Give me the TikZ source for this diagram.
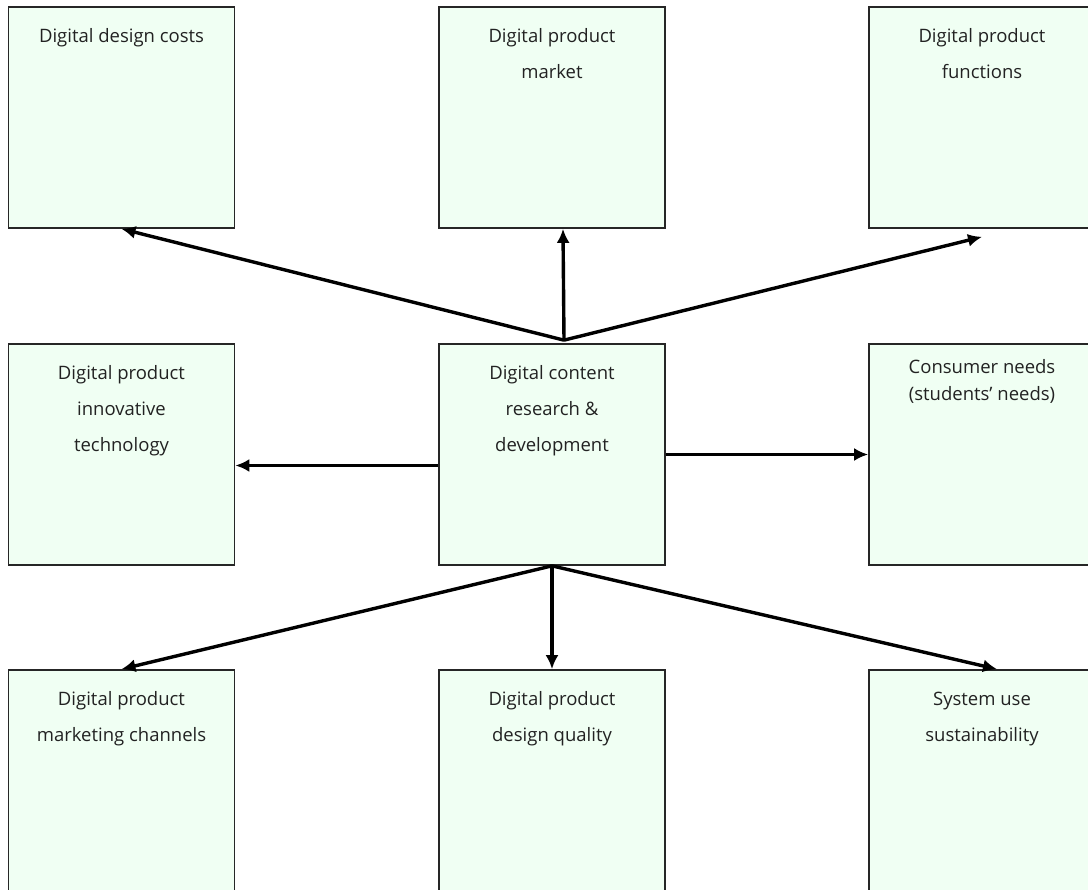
\documentclass[tikz,border=0pt]{standalone}
\usepackage{fontspec}
\setmainfont{Open Sans}
\usetikzlibrary{arrows.meta}
\definecolor{boxfill}{HTML}{F0FFF3}
\definecolor{boxtext}{HTML}{222222}
\begin{document}
\begin{tikzpicture}[x=1pt,y=-1pt,
    site/.style={rectangle, draw=black!85, line width=1.7pt, fill=boxfill, minimum width=226pt, minimum height=221pt, inner sep=0pt},
    txt/.style={anchor=north, align=center, text=boxtext, font=\fontsize{18.5}{36}\selectfont},
    link/.style={line width=3.4pt, -{Latex[length=14pt,width=13pt]}}]

    \useasboundingbox (0,0) rectangle (1088,890);
    \clip (0,0) rectangle (1088,890);

    % Top row
    \node[site, label={[txt, yshift=-19pt]north:Digital design costs}] (cost) at (121.5,117.5) {};
    \node[site, label={[txt, yshift=-19pt]north:Digital product\\market}] (market) at (552,117.5) {};
    \node[site, label={[txt, yshift=-19pt]north:Digital product\\functions}] (func) at (982,117.5) {};

    % Middle row
    \node[site, label={[txt, yshift=-19pt]north:Digital product\\innovative\\technology}] (innov) at (121.5,454.5) {};
    \node[site, label={[txt, yshift=-19pt]north:Digital content\\research \&\\development}] (rd) at (552,454.5) {};
    \node[site, label={[txt, font=\fontsize{18.5}{27}\selectfont, yshift=-13pt]north:Consumer needs\\(students’ needs)}] (needs) at (982,454.5) {};

    % Bottom row
    \node[site, label={[txt, yshift=-19pt]north:Digital product\\marketing channels}] (channels) at (121.5,780.5) {};
    \node[site, label={[txt, yshift=-19pt]north:Digital product\\design quality}] (quality) at (552,780.5) {};
    \node[site, label={[txt, yshift=-19pt]north:System use\\sustainability}] (sustain) at (982,780.5) {};

    % Arrows out of the centre box
    \coordinate (up) at ([shift={(12pt,3pt)}]rd.north);
    \draw[link] (up) -- (cost.south);
    \draw[link] (up) -- ([xshift=11pt]market.south);
    \draw[link] (up) -- ([yshift=-8pt]func.south);
    \draw[link] ([yshift=-11pt]rd.west) -- ([yshift=-11pt]innov.east);
    \draw[link] (rd.east) -- (needs.west);
    \foreach \n/\dx in {channels/0, quality/0, sustain/15} {
        \draw[link] (rd.south) -- ([xshift=\dx pt]\n.north);
    }
\end{tikzpicture}
\end{document}
